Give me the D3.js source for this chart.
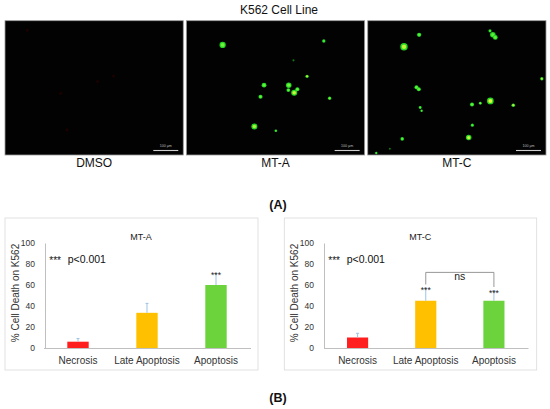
<!DOCTYPE html>
<html>
<head>
<meta charset="utf-8">
<script src="https://cdn.jsdelivr.net/npm/d3@7"></script>
<style>
body { margin: 0; background: #fff; }
text { font-family: "Liberation Sans", Arial, sans-serif; }
</style>
</head>
<body>
<div class="display"></div>
<script>
const width = 550;
const height = 409;
const sans = '"Liberation Sans", Arial, sans-serif';

// microscopy panels
const panelNames = ['DMSO', 'MT-A', 'MT-C'];
// cells: [x fraction, y fraction, radius, tone]  tone -2 = faint red, -1 = dim, 0 = green ... 1 = yellow
const dmsoCells = [[0.12, 0.065, 1.3, -2], [0.52, 0.454, 1.2, -2], [0.61, 0.412, 1.2, -2], [0.31, 0.541, 1.3, -2], [0.346, 0.819, 1.3, -2]];
const mtaCells = [
    [0.20, 0.176, 2.6, 0.3], [0.774, 0.146, 1.4, 0], [0.602, 0.292, 0.9, -1], [0.679, 0.413, 1.4, 0.6],
    [0.435, 0.48, 2.0, 0.2], [0.575, 0.48, 2.3, 0.3], [0.573, 0.517, 1.6, 0.2], [0.606, 0.537, 2.5, 0.8],
    [0.624, 0.51, 1.7, 0.2], [0.415, 0.567, 1.7, 0.2], [0.807, 0.579, 1.4, 0.3], [0.38, 0.792, 2.5, 0.6],
    [0.502, 0.824, 1.1, 0]
];
const mtcCells = [
    [0.2, 0.19, 3.1, 0.7], [0.286, 0.099, 1.8, 0.1], [0.688, 0.069, 1.3, 0.1], [0.704, 0.099, 2.3, 0.2],
    [0.718, 0.119, 2.0, 0.2], [0.982, 0.431, 1.4, 0.6], [0.271, 0.495, 1.7, 0.2], [0.284, 0.51, 1.7, 0.2],
    [0.292, 0.649, 1.2, 0.1], [0.3, 0.673, 1.0, 0.1], [0.586, 0.626, 1.7, 0.2], [0.633, 0.616, 1.2, 0.3],
    [0.69, 0.599, 2.8, 0.9], [0.82, 0.631, 1.5, 0.6], [0.588, 0.782, 1.3, 0.1], [0.567, 0.876, 2.3, 0.8],
    [0.19, 0.886, 1.5, 0.1], [0.12, 0.96, 0.8, -1], [0.043, 0.993, 1.0, 0]
];
const panelCells = [dmsoCells, mtaCells, mtcCells];

// bar charts
const categories = ['Necrosis', 'Late Apoptosis', 'Apoptosis'];
const mtaValues = [6, 33.5, 60];
const mtaErrors = [3, 9, 11];
const mtaStars = ['', '', '***'];
const mtcValues = [10, 45, 45];
const mtcErrors = [4, 12, 9.6];
const mtcStars = ['', '***', '***'];
const yTicks = [0, 20, 40, 60, 80, 100];
const barColors = ['#ff1f1f', '#ffc000', '#6cd33c'];

const svg = d3.select('.display')
    .append('svg')
    .attr('width', width)
    .attr('height', height)
    .style('display', 'block')
    .style('background-color', 'white');

const defs = svg.append('defs');
defs.append('filter').attr('id', 'glow')
    .attr('x', '-50%').attr('y', '-50%').attr('width', '200%').attr('height', '200%')
    .append('feGaussianBlur').attr('stdDeviation', 0.5);

svg.append('text')
    .attr('x', 279).attr('y', 14)
    .attr('text-anchor', 'middle')
    .attr('font-size', 12)
    .attr('fill', '#111')
    .text('K562 Cell Line');

const panelScale = d3.scaleBand()
    .domain(panelNames)
    .range([5, 546])
    .paddingInner(0.017);
const panelTop = 20.7;
const panelHeight = 134.3;

const green = d3.interpolateRgb('#3bf03b', '#f2f53a');

panelNames.forEach((name, i) => {
    const px = panelScale(name);
    const pw = panelScale.bandwidth();
    const g = svg.append('g');
    g.append('rect')
        .attr('x', px).attr('y', panelTop)
        .attr('width', pw).attr('height', panelHeight)
        .attr('fill', '#020202')
        .attr('stroke', '#9a9a9a')
        .attr('stroke-width', 0.8);

    const xs = d3.scaleLinear().domain([0, 1]).range([px + 1, px + pw - 1]);
    const ys = d3.scaleLinear().domain([0, 1]).range([panelTop + 1, panelTop + panelHeight - 1]);
    const rs = d3.scaleLinear().domain([0, 1]).range([0, 1.2]);

    const cells = g.append('g').attr('filter', 'url(#glow)');
    panelCells[i].forEach(([cx, cy, r, tone]) => {
        if (tone === -2) {
            cells.append('circle').attr('cx', xs(cx)).attr('cy', ys(cy)).attr('r', rs(r)).attr('fill', '#1a0404');
            return;
        }
        if (tone === -1) {
            cells.append('circle').attr('cx', xs(cx)).attr('cy', ys(cy)).attr('r', rs(r)).attr('fill', '#0f7a0f');
            return;
        }
        cells.append('circle').attr('cx', xs(cx)).attr('cy', ys(cy)).attr('r', rs(r)).attr('fill', '#22d622');
        cells.append('circle').attr('cx', xs(cx)).attr('cy', ys(cy)).attr('r', rs(r) * 0.6).attr('fill', green(tone));
    });

    // scale bar
    g.append('line')
        .attr('x1', px + pw - 30).attr('x2', px + pw - 5)
        .attr('y1', panelTop + panelHeight - 4.5).attr('y2', panelTop + panelHeight - 4.5)
        .attr('stroke', '#cfcfcf').attr('stroke-width', 1.1);
    g.append('text')
        .attr('x', px + pw - 17.5).attr('y', panelTop + panelHeight - 8)
        .attr('text-anchor', 'middle')
        .attr('font-size', 3.6)
        .attr('fill', '#bdbdbd')
        .text('100 µm');

    svg.append('text')
        .attr('x', px + pw / 2).attr('y', 167)
        .attr('text-anchor', 'middle')
        .attr('font-size', 12)
        .attr('fill', '#111')
        .text(name);
});

svg.append('text')
    .attr('x', 278).attr('y', 208.5)
    .attr('text-anchor', 'middle')
    .attr('font-family', '"Liberation Serif", "Times New Roman", serif')
    .attr('font-weight', 'bold')
    .attr('font-size', 12.5)
    .attr('fill', '#111')
    .text('(A)');

svg.append('text')
    .attr('x', 278).attr('y', 401.5)
    .attr('text-anchor', 'middle')
    .attr('font-family', '"Liberation Serif", "Times New Roman", serif')
    .attr('font-weight', 'bold')
    .attr('font-size', 12.5)
    .attr('fill', '#111')
    .text('(B)');

const charts = [
    { title: 'MT-A', box: [5, 218, 253, 152], axisX: 45, bandRange: [43.5, 250.5],
      values: mtaValues, errors: mtaErrors, stars: mtaStars, bracket: null },
    { title: 'MT-C', box: [284.3, 218, 252.4, 152], axisX: 324, bandRange: [323.5, 528],
      values: mtcValues, errors: mtcErrors, stars: mtcStars, bracket: { from: 1, to: 2, top: 72, label: 'ns' } }
];

const yScale = d3.scaleLinear().domain([0, 100]).range([348, 243]);

charts.forEach(c => {
    const g = svg.append('g');
    g.append('rect')
        .attr('x', c.box[0]).attr('y', c.box[1])
        .attr('width', c.box[2]).attr('height', c.box[3])
        .attr('fill', 'white')
        .attr('stroke', '#dadada')
        .attr('stroke-width', 0.8);

    const xScale = d3.scaleBand()
        .domain(categories)
        .range(c.bandRange)
        .paddingInner(0.69)
        .paddingOuter(0.345);

    const yAxis = d3.axisLeft(yScale).tickValues(yTicks).tickSize(0).tickPadding(10);
    g.append('g')
        .attr('transform', `translate(${c.axisX}, 0)`)
        .call(yAxis)
        .call(a => {
            a.attr('font-family', sans).attr('font-size', 8.5);
            a.select('.domain').attr('stroke', '#bfbfbf');
            a.selectAll('text').attr('fill', '#333');
        });

    const xAxis = d3.axisBottom(xScale).tickSize(0).tickPadding(8.5);
    g.append('g')
        .attr('transform', `translate(0, ${yScale(0)})`)
        .call(xAxis)
        .call(a => {
            a.attr('font-family', sans).attr('font-size', 10);
            a.select('.domain').attr('stroke', '#bfbfbf');
            a.selectAll('text').attr('fill', '#333');
        });

    g.selectAll('rect.bar')
        .data(categories)
        .enter()
        .append('rect')
        .attr('class', 'bar')
        .attr('x', d => xScale(d))
        .attr('y', (d, i) => yScale(c.values[i]))
        .attr('width', xScale.bandwidth())
        .attr('height', (d, i) => yScale(0) - yScale(c.values[i]))
        .attr('fill', (d, i) => barColors[i]);

    categories.forEach((d, i) => {
        const cx = xScale(d) + xScale.bandwidth() / 2;
        const top = yScale(c.values[i] + c.errors[i]);
        g.append('line')
            .attr('x1', cx).attr('x2', cx)
            .attr('y1', yScale(c.values[i])).attr('y2', top)
            .attr('stroke', '#9dc3e6').attr('stroke-width', 1);
        g.append('line')
            .attr('x1', cx - 1.5).attr('x2', cx + 1.5)
            .attr('y1', top).attr('y2', top)
            .attr('stroke', '#9dc3e6').attr('stroke-width', 1);
        if (c.stars[i]) {
            g.append('text')
                .attr('x', cx).attr('y', top + 5)
                .attr('text-anchor', 'middle')
                .attr('font-size', 8.5)
                .attr('fill', '#222')
                .text(c.stars[i]);
        }
    });

    if (c.bracket) {
        const b = c.bracket;
        const x1 = xScale(categories[b.from]) + xScale.bandwidth() / 2;
        const x2 = xScale(categories[b.to]) + xScale.bandwidth() / 2;
        const e1 = c.values[b.from] + c.errors[b.from] + 3.5;
        const e2 = c.values[b.to] + c.errors[b.to] + 3.5;
        g.append('path')
            .attr('d', `M${x1},${yScale(e1)}V${yScale(b.top)}H${x2}V${yScale(e2)}`)
            .attr('fill', 'none')
            .attr('stroke', '#8c8c8c')
            .attr('stroke-width', 0.9);
        g.append('text')
            .attr('x', (x1 + x2) / 2).attr('y', yScale(b.top) + 7.5)
            .attr('text-anchor', 'middle')
            .attr('font-size', 10.5)
            .attr('fill', '#222')
            .text(b.label);
    }

    g.append('text')
        .attr('x', c.box[0] + 136).attr('y', 240)
        .attr('text-anchor', 'middle')
        .attr('font-size', 9)
        .attr('fill', '#222')
        .text(c.title);

    g.append('text')
        .attr('x', c.axisX + 4.3).attr('y', 263.5)
        .attr('font-size', 10)
        .attr('fill', '#111')
        .text('***');
    g.append('text')
        .attr('x', c.axisX + 22.7).attr('y', 263)
        .attr('font-size', 10.5)
        .attr('fill', '#111')
        .text('p<0.001');

    g.append('text')
        .attr('transform', `translate(${c.axisX - 26.5}, 293) rotate(-90)`)
        .attr('text-anchor', 'middle')
        .attr('font-size', 10)
        .attr('fill', '#333')
        .text('% Cell Death on K562');
});
</script>
</body>
</html>
